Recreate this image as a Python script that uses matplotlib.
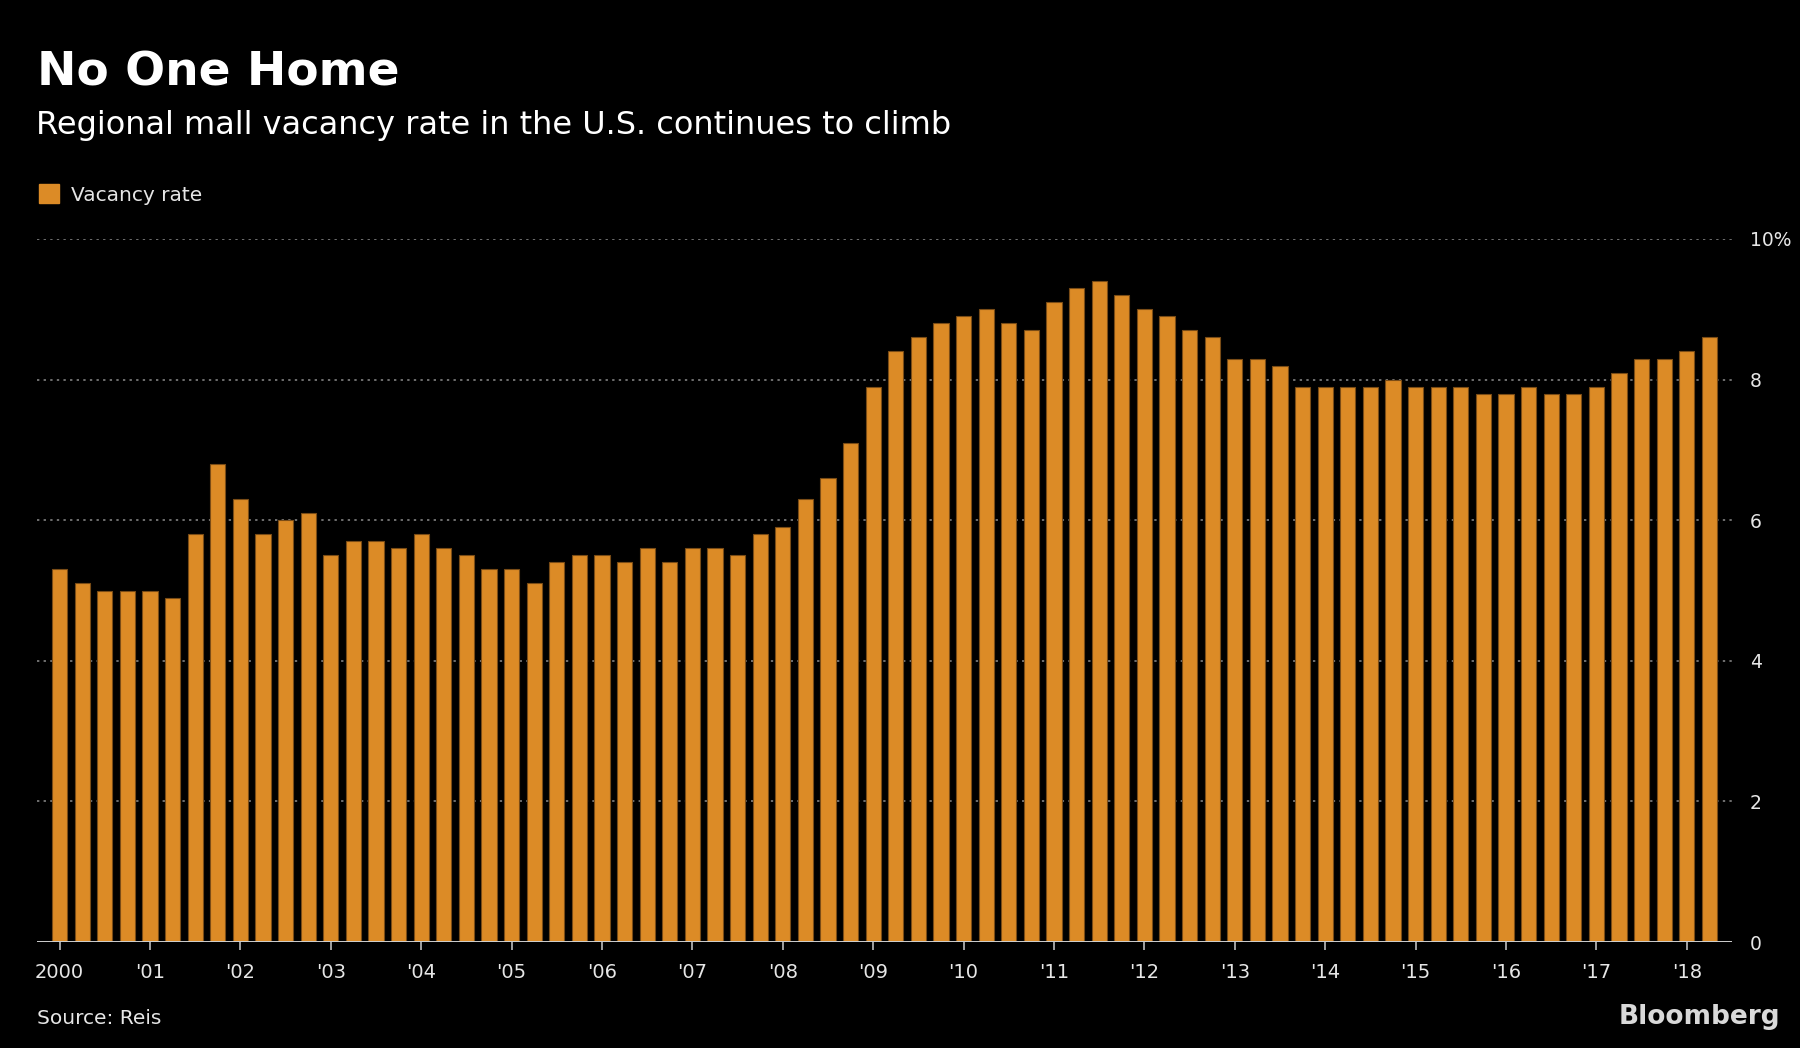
#!/usr/bin/env python3
"""Regional mall vacancy rate, quarterly bars, Bloomberg dark style."""

import matplotlib as mpl
import matplotlib.pyplot as plt
import numpy as np
from matplotlib.patches import Rectangle

W, H = 1800, 1048
BG = "#000000"
BAR = "#dc8b26"
BAR_EDGE = "#7a4c16"
TXT = "#e6e6e6"
GRID = "#707070"

mpl.rcParams.update({"font.family": ["DejaVu Sans"]})

# quarterly vacancy rate (%), 2000 Q1 .. 2018 Q2
VACANCY = [
    5.3, 5.1, 5.0, 5.0,   # 2000
    5.0, 4.9, 5.8, 6.8,   # 2001
    6.3, 5.8, 6.0, 6.1,   # 2002
    5.5, 5.7, 5.7, 5.6,   # 2003
    5.8, 5.6, 5.5, 5.3,   # 2004
    5.3, 5.1, 5.4, 5.5,   # 2005
    5.5, 5.4, 5.6, 5.4,   # 2006
    5.6, 5.6, 5.5, 5.8,   # 2007
    5.9, 6.3, 6.6, 7.1,   # 2008
    7.9, 8.4, 8.6, 8.8,   # 2009
    8.9, 9.0, 8.8, 8.7,   # 2010
    9.1, 9.3, 9.4, 9.2,   # 2011
    9.0, 8.9, 8.7, 8.6,   # 2012
    8.3, 8.3, 8.2, 7.9,   # 2013
    7.9, 7.9, 7.9, 8.0,   # 2014
    7.9, 7.9, 7.9, 7.8,   # 2015
    7.8, 7.9, 7.8, 7.8,   # 2016
    7.9, 8.1, 8.3, 8.3,   # 2017
    8.4, 8.6,             # 2018
]
YEAR_LABELS = ["2000"] + [f"'{y % 100:02d}" for y in range(2001, 2019)]
Y_TICKS = [0, 2, 4, 6, 8, 10]
Y_LABELS = ["0", "2", "4", "6", "8", "10%"]


def fx(px):
    return px / W


def fy(py):
    return 1 - py / H


fig = plt.figure(figsize=(W / 100, H / 100), dpi=100, facecolor=BG)
ax = fig.add_axes([fx(37), fy(942), fx(1732) - fx(37), fy(239) - fy(942)])
ax.set_facecolor(BG)

x = np.arange(len(VACANCY))
ax.bar(x, VACANCY, width=0.67, color=BAR, edgecolor=BAR_EDGE,
       linewidth=0.8, zorder=2)

ax.set_xlim(-1, 74)
ax.set_ylim(0, 10)

# dotted horizontal gridlines
for yv in Y_TICKS[1:]:
    ax.axhline(yv, color=GRID, linestyle=(0, (1.2, 2.2)), linewidth=1.4,
               zorder=1)
ax.axhline(0, color="#cfcfcf", linewidth=1.4, zorder=3)

for s in ax.spines.values():
    s.set_visible(False)

ax.set_xticks(np.arange(0, len(VACANCY), 4))
ax.set_xticklabels(YEAR_LABELS)
ax.tick_params(axis="x", colors="#bdbdbd", length=6, width=1.2, pad=9,
               labelsize=14, labelcolor=TXT)
ax.yaxis.tick_right()
ax.set_yticks(Y_TICKS)
ax.set_yticklabels(Y_LABELS)
ax.tick_params(axis="y", length=0, pad=13, labelsize=13.5, labelcolor=TXT)

# titles
fig.text(fx(37), fy(86), "No One Home", color="white", fontsize=33.8,
         fontweight="bold", va="baseline", ha="left")
fig.text(fx(36), fy(134), "Regional mall vacancy rate in the U.S. continues to climb",
         color="white", fontsize=23, va="baseline", ha="left")

# legend
fig.patches.append(Rectangle((fx(39), fy(203)), fx(20), fy(184) - fy(203),
                             transform=fig.transFigure, color=BAR))
fig.text(fx(71), fy(201), "Vacancy rate", color=TXT, fontsize=14.5,
         va="baseline", ha="left")

# footer
fig.text(fx(37), fy(1024), "Source: Reis", color=TXT, fontsize=14.5,
         va="baseline", ha="left")
fig.text(fx(1780), fy(1024), "Bloomberg", color="#d9d9d9", fontsize=19,
         fontweight="bold", va="baseline", ha="right")

fig.savefig("out.png", dpi=100, facecolor=BG)
